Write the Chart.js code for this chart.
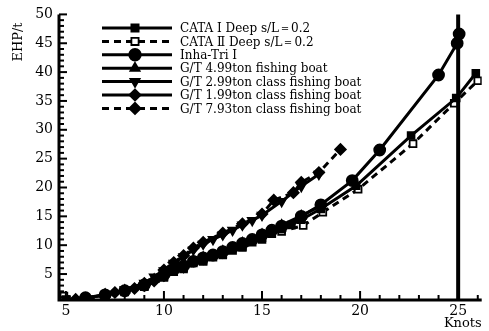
<!DOCTYPE html>
<html><head><meta charset="utf-8">
<script src="https://cdn.jsdelivr.net/npm/chart.js@4/dist/chart.umd.min.js"></script>
<style>html,body{margin:0;padding:0;background:#fff}#wrap{width:489px;height:331px;position:relative}</style>
</head><body><div id="wrap"><canvas id="c" width="489" height="331"></canvas></div>
<script>
// ---- data ----
const seriesNames = [
  "CATA Ⅰ Deep s/L＝0.2",
  "CATA Ⅱ Deep s/L＝0.2",
  "Inha-Tri Ⅰ",
  "G/T 4.99ton fishing boat",
  "G/T 2.99ton class fishing boat",
  "G/T 1.99ton class fishing boat",
  "G/T 7.93ton class fishing boat"
];
const cataI_x  = [5, 6, 7, 8, 9, 10, 10.5, 11, 11.5, 12, 12.5, 13, 13.5, 14, 14.5, 15, 15.5, 16, 16.5, 17, 18, 19.8, 22.6, 24.9, 25.9];
const cataI_y  = [0.6, 0.9, 1.3, 2.0, 2.9, 4.6, 5.4, 6.1, 6.9, 7.4, 7.9, 8.5, 9.1, 9.8, 10.5, 11.3, 12.0, 12.8, 13.5, 14.4, 16.3, 20.3, 29.0, 35.5, 39.8];
const cataII_x = [4.9, 6, 7, 8, 9, 10, 11, 12, 13, 14, 15, 16, 17.1, 18.1, 19.9, 22.7, 24.8, 26];
const cataII_y = [1.2, 0.7, 1.1, 1.9, 2.8, 4.4, 5.9, 7.2, 8.3, 9.6, 11.0, 12.4, 13.4, 15.7, 19.7, 27.6, 34.6, 38.5];
const inha_x   = [6, 7, 8, 9, 10, 10.5, 11, 11.5, 12, 12.5, 13, 13.5, 14, 14.5, 15, 15.5, 16, 17, 18, 19.6, 21, 24, 24.95, 25.05];
const inha_y   = [0.9, 1.4, 2.1, 3.1, 4.9, 5.8, 6.4, 7.2, 7.8, 8.3, 8.9, 9.6, 10.3, 11.0, 11.8, 12.6, 13.3, 15.0, 17.0, 21.2, 26.5, 39.5, 45.0, 46.6];
const gt499_x  = [7, 8, 9, 9.5, 10, 10.5, 11, 11.5, 12, 13, 14, 15, 16, 17, 18];
const gt499_y  = [1.5, 2.2, 3.2, 4.1, 5.0, 5.9, 6.5, 7.3, 7.9, 9.0, 10.4, 11.9, 13.5, 15.1, 16.8];
const gt299_x  = [8, 9, 9.5, 10, 10.5, 11, 11.5, 12, 12.5, 13, 13.5, 14, 14.5, 15, 16, 17, 17.9];
const gt299_y  = [2.3, 3.4, 4.5, 5.6, 6.9, 8.0, 9.2, 10.2, 11.0, 11.8, 12.6, 13.5, 14.3, 15.2, 17.6, 20.2, 22.3];
const gt199_x  = [5.5, 6, 7, 7.5, 8, 8.5, 9, 9.5, 10, 11, 12, 13, 14, 15, 16, 17];
const gt199_y  = [0.6, 0.8, 1.4, 1.8, 2.1, 2.5, 3.0, 3.8, 4.7, 6.2, 7.6, 8.7, 10.1, 11.6, 13.1, 14.7];
const gt793_x  = [9, 10, 10.5, 11, 11.5, 12, 13, 14, 15, 15.6, 16.6, 17, 17.9, 19];
const gt793_y  = [3.4, 5.7, 7.0, 8.2, 9.5, 10.5, 12.1, 13.7, 15.4, 17.8, 19.1, 20.9, 22.6, 26.6];
const xTickLabels = [5, 10, 15, 20, 25];
const yTickLabels = [5, 10, 15, 20, 25, 30, 35, 40, 45, 50];
const markLineKnots = 25;

const pts = (xs, ys) => xs.map((x, i) => ({x: x, y: ys[i]}));
const base = {borderColor:'#000', backgroundColor:'#000', pointBorderColor:'#000', borderWidth:3, pointRadius:4.5, pointBorderWidth:1.8, tension:0, fill:false};
const datasets = [
  Object.assign({}, base, {label:seriesNames[0], data:pts(cataI_x,cataI_y), pointStyle:'rect', pointRadius:4.8}),
  Object.assign({}, base, {label:seriesNames[1], data:pts(cataII_x,cataII_y), pointStyle:'rect', pointRadius:4.8, pointBackgroundColor:'#fff', backgroundColor:'#fff', borderDash:[7,5]}),
  Object.assign({}, base, {label:seriesNames[2], data:pts(inha_x,inha_y), pointStyle:'circle', pointRadius:5.5}),
  Object.assign({}, base, {label:seriesNames[3], data:pts(gt499_x,gt499_y), pointStyle:'triangle', pointRadius:5}),
  Object.assign({}, base, {label:seriesNames[4], data:pts(gt299_x,gt299_y), pointStyle:'triangle', pointRadius:5, pointRotation:180}),
  Object.assign({}, base, {label:seriesNames[5], data:pts(gt199_x,gt199_y), pointStyle:'rectRot', pointRadius:5.3}),
  Object.assign({}, base, {label:seriesNames[6], data:pts(gt793_x,gt793_y), pointStyle:'rectRot', pointRadius:5.3, borderDash:[7,5]})
];

const FONT = '"DejaVu Serif", "Liberation Serif", serif';

const decor = {
  id: 'decor',
  afterDatasetsDraw(chart) {
    const ctx = chart.ctx, xs = chart.scales.x, ys = chart.scales.y, a = chart.chartArea;
    ctx.save();
    ctx.strokeStyle = '#000'; ctx.fillStyle = '#000';
    // axis lines
    ctx.lineWidth = 3; ctx.setLineDash([]);
    ctx.beginPath();
    ctx.moveTo(a.left, a.top); ctx.lineTo(a.left, a.bottom); ctx.lineTo(a.right, a.bottom);
    ctx.stroke();
    // inward ticks
    ctx.lineWidth = 2;
    for (let v = 1; v <= 50; v++) {
      const y = ys.getPixelForValue(v);
      const len = (v % 5 === 0) ? 8 : 5;
      ctx.beginPath(); ctx.moveTo(a.left, y); ctx.lineTo(a.left + len, y); ctx.stroke();
    }
    for (let v = 5; v <= 26; v++) {
      const x = xs.getPixelForValue(v);
      const len = (v % 5 === 0) ? 9 : 5;
      ctx.beginPath(); ctx.moveTo(x, a.bottom); ctx.lineTo(x, a.bottom - len); ctx.stroke();
    }
    // vertical line at 25 knots
    ctx.lineWidth = 4;
    const vx = xs.getPixelForValue(markLineKnots);
    ctx.beginPath(); ctx.moveTo(vx, ys.getPixelForValue(50)); ctx.lineTo(vx, a.bottom); ctx.stroke();
    // legend
    const lx0 = 102, lx1 = 172, mx = 135, tx = 180, y0 = 28, dy = 13.4;
    ctx.font = '12px ' + FONT; ctx.textBaseline = 'middle';
    chart.data.datasets.forEach((ds, i) => {
      const y = y0 + i * dy;
      ctx.lineWidth = 3; ctx.strokeStyle = '#000';
      ctx.setLineDash(ds.borderDash || []);
      ctx.beginPath(); ctx.moveTo(lx0, y); ctx.lineTo(lx1, y); ctx.stroke();
      ctx.setLineDash([]);
      ctx.fillStyle = ds.pointBackgroundColor || '#000';
      ctx.lineWidth = 1.8;
      Chart.helpers.drawPoint(ctx, {pointStyle: ds.pointStyle, rotation: ds.pointRotation || 0, radius: ds.pointRadius + 0.3, borderWidth: 1.8}, mx, y);
      ctx.fillStyle = '#000';
      ctx.fillText(ds.label, tx, y + 1);
    });
    // y title
    ctx.save();
    ctx.translate(19, 42); ctx.rotate(-Math.PI / 2);
    ctx.font = '13px ' + FONT; ctx.textAlign = 'center'; ctx.textBaseline = 'middle';
    ctx.fillText('EHP/t', 0, 0);
    ctx.restore();
    ctx.restore();
  }
};

new Chart(document.getElementById('c'), {
  type: 'line',
  data: { datasets: datasets },
  options: {
    responsive: false, animation: false, devicePixelRatio: 1,
    layout: { padding: { left: 0, right: 4, top: 13, bottom: 0 } },
    plugins: { legend: { display: false }, tooltip: { enabled: false } },
    elements: { line: { borderCapStyle: 'butt' } },
    scales: {
      x: {
        type: 'linear', min: 4.65, max: 26.2,
        grid: { display: false, drawTicks: false }, border: { display: false },
        afterBuildTicks: s => { s.ticks = xTickLabels.map(v => ({value: v})); },
        afterFit: s => { s.height = 31; },
        ticks: { color: '#000', font: { family: FONT, size: 14 }, padding: 3, maxRotation: 0, autoSkip: false },
        title: { display: true, text: 'Knots', align: 'end', color: '#000', font: { family: FONT, size: 13 }, padding: { top: -4, bottom: 0 } }
      },
      y: {
        type: 'linear', min: 0.5, max: 50,
        grid: { display: false, drawTicks: false }, border: { display: false },
        afterBuildTicks: s => { s.ticks = yTickLabels.map(v => ({value: v})); },
        afterFit: s => { s.width = 59; },
        ticks: { color: '#000', font: { family: FONT, size: 14 }, padding: 6, autoSkip: false }
      }
    }
  },
  plugins: [decor]
});
</script>
</body></html>
